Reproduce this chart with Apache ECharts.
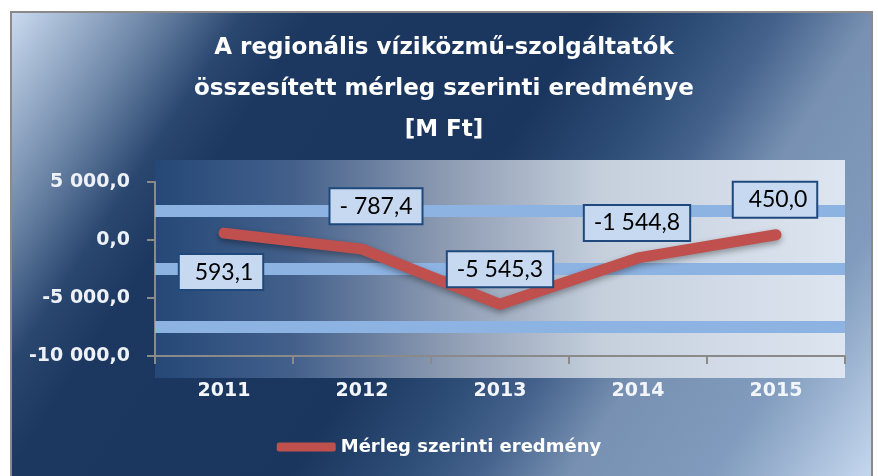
<!DOCTYPE html>
<html>
<head>
<meta charset="utf-8">
<script src="https://cdn.jsdelivr.net/npm/echarts@6/dist/echarts.min.js"></script>
<style>
html,body{margin:0;padding:0;background:#fff;}
#c{width:878px;height:476px;}
</style>
</head>
<body>
<div id="c"></div>
<script>
const titleText = 'A regionális víziközmű-szolgáltatók\nösszesített mérleg szerinti eredménye\n[M Ft]';
const seriesName = 'Mérleg szerinti eredmény';
const categories = ['2011', '2012', '2013', '2014', '2015'];
const values = [593.1, -787.4, -5545.3, -1544.8, 450.0];
const yMin = -10000, yMax = 5000, yInterval = 5000;
const bandValues = [2500, -2500, -7500];

function group(a, dec) {
  const parts = a.toFixed(dec).split('.');
  const i = parts[0].replace(/\B(?=(\d{3})+(?!\d))/g, ' ');
  return i + ',' + parts[1];
}
function axisFmt(v) {
  return (v < 0 ? '-' : '') + group(Math.abs(v), 1);
}
function labelFmt(v) {
  const a = Math.abs(v);
  return (v < 0 ? '-' : '') + (a < 1000 ? ' ' : '') + group(a, 1);
}

const BOLD = 'DejaVu Sans';
const LBL = 'Lato';
const labelOffsets = [[-3, 39], [14, -43], [0, -35], [-1, -35], [-1, -35]];

const chart = echarts.init(document.getElementById('c'), null, {renderer: 'canvas'});
const G = echarts.graphic;

const option = {
  animation: false,
  graphic: {
    z: -5,
    elements: [
      {
        type: 'rect', z: -5,
        shape: {x: 11, y: 12, width: 861, height: 470},
        style: {
          fill: new G.LinearGradient(10, 12, 824, 551, [
            {offset: 0, color: '#cbdbf0'},
            {offset: 0.12, color: '#6f88a9'},
            {offset: 0.2, color: '#2a4770'},
            {offset: 0.26, color: '#1c3860'},
            {offset: 0.5, color: '#1a365e'},
            {offset: 0.6, color: '#2f4e78'},
            {offset: 0.66, color: '#44628c'},
            {offset: 0.74, color: '#7891b2'},
            {offset: 0.86, color: '#809bbd'},
            {offset: 1, color: '#c6d8ef'}
          ], true),
          stroke: '#8a8a8a', lineWidth: 2
        }
      },
      {
        type: 'rect', z: -4,
        shape: {x: 155, y: 160, width: 690, height: 218},
        style: {
          fill: new G.LinearGradient(0, 0, 1, 0, [
            {offset: 0, color: '#254878'},
            {offset: 0.2, color: '#43608b'},
            {offset: 0.42, color: '#8d9bb2'},
            {offset: 0.65, color: '#c6d0dd'},
            {offset: 1, color: '#dde5f0'}
          ])
        }
      }
    ]
  },
  title: {
    text: titleText,
    left: 439,
    top: 23,
    textAlign: 'center',
    textStyle: {color: '#ffffff', fontFamily: BOLD, fontWeight: 'bold', fontSize: 23, lineHeight: 41}
  },
  legend: {
    left: 'center',
    top: 433,
    itemWidth: 59,
    itemHeight: 9,
    itemGap: 0,
    data: [{name: seriesName, icon: 'roundRect', itemStyle: {color: '#c0504d'}}],
    textStyle: {color: '#ffffff', fontFamily: BOLD, fontWeight: 'bold', fontSize: 18}
  },
  grid: {left: 155, right: 33, top: 182, bottom: 120, containLabel: false},
  xAxis: {
    type: 'category',
    data: categories,
    boundaryGap: true,
    axisLine: {onZero: false, lineStyle: {color: '#8a8a8a', width: 2}},
    axisTick: {show: true, length: 8, lineStyle: {color: '#8a8a8a', width: 2}},
    axisLabel: {color: '#f2f5fa', fontFamily: BOLD, fontWeight: 'bold', fontSize: 19, margin: 26}
  },
  yAxis: {
    type: 'value',
    min: yMin, max: yMax, interval: yInterval,
    axisLine: {show: true, lineStyle: {color: '#8a8a8a', width: 2}},
    axisTick: {show: true, length: 8, lineStyle: {color: '#8a8a8a', width: 2}},
    splitLine: {show: false},
    axisLabel: {formatter: axisFmt, color: '#eef2f8', fontFamily: BOLD, fontWeight: 'bold', fontSize: 19, margin: 25}
  },
  series: [
    {
      type: 'line',
      name: '__bands',
      z: 1,
      data: [],
      silent: true,
      markArea: {
        silent: true,
        itemStyle: {color: '#8db3e2'},
        data: bandValues.map(v => [{yAxis: v - 520}, {yAxis: v + 520}])
      }
    },
    {
      type: 'line',
      name: seriesName,
      z: 3,
      data: values.map((v, i) => ({value: v, label: {offset: labelOffsets[i]}})),
      symbol: 'circle',
      symbolSize: 1,
      showSymbol: true,
      itemStyle: {color: '#c0504d'},
      lineStyle: {
        color: '#c0504d', width: 11, cap: 'round', join: 'round',
        shadowColor: 'rgba(0,0,0,0.35)', shadowBlur: 6, shadowOffsetY: 3
      },
      label: {
        show: true,
        position: 'inside',
        formatter: p => labelFmt(p.value),
        fontFamily: LBL,
        fontSize: 23,
        lineHeight: 24,
        color: '#000000',
        backgroundColor: '#c6d9f1',
        borderColor: '#1f497d',
        borderWidth: 2,
        padding: [6, 9, 4, 9]
      }
    }
  ]
};
chart.setOption(option);
</script>
</body>
</html>
